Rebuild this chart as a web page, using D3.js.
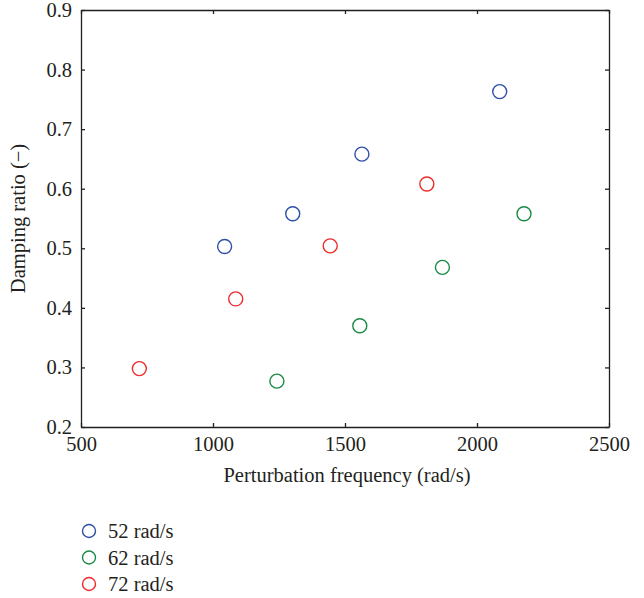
<!DOCTYPE html>
<html>
<head>
<meta charset="utf-8">
<script src="https://cdn.jsdelivr.net/npm/d3@7"></script>
<style>
  body { margin: 0; background: #fff; }
  text { font-family: "Liberation Serif", "DejaVu Serif", serif; fill: #231f20; }
</style>
</head>
<body>
<div id="chart"></div>
<script>
// data
const seriesNames = ["52 rad/s", "62 rad/s", "72 rad/s"];
const seriesColors = ["#2f4fa8", "#1b8a45", "#ee2b2b"];
const freq52 = [1044, 1302, 1564, 2086];
const damp52 = [0.503, 0.558, 0.658, 0.763];
const freq62 = [1242, 1556, 1869, 2178];
const damp62 = [0.277, 0.370, 0.468, 0.558];
const freq72 = [721, 1086, 1444, 1810];
const damp72 = [0.298, 0.415, 0.504, 0.608];
const xTicks = [500, 1000, 1500, 2000, 2500];
const yTicks = [0.2, 0.3, 0.4, 0.5, 0.6, 0.7, 0.8, 0.9];

const W = 644, H = 598;
const margin = { top: 10, right: 35, bottom: 171, left: 81 };
const width = W - margin.left - margin.right,
    height = H - margin.top - margin.bottom;
const fs = "20.5px";

const svg = d3.select("#chart").append("svg")
    .attr("width", W).attr("height", H)
    .append("g")
    .attr("transform", `translate(${margin.left},${margin.top})`);

const x = d3.scaleLinear().domain([500, 2500]).range([0, width]);
const y = d3.scaleLinear().domain([0.2, 0.9]).range([height, 0]);

// axes, ticks pointing inward, mirrored on top/right
const axB = svg.append("g").attr("transform", `translate(0,${height})`)
    .call(d3.axisBottom(x).tickValues(xTicks).tickFormat(d3.format("d")).tickSize(-4).tickSizeOuter(0).tickPadding(7));
const axL = svg.append("g")
    .call(d3.axisLeft(y).tickValues(yTicks).tickFormat(d3.format(".1f")).tickSize(-4).tickSizeOuter(0).tickPadding(9));
const axT = svg.append("g")
    .call(d3.axisTop(x).tickValues(xTicks).tickSize(-4).tickSizeOuter(0).tickFormat(""));
const axR = svg.append("g").attr("transform", `translate(${width},0)`)
    .call(d3.axisRight(y).tickValues(yTicks).tickSize(-4).tickSizeOuter(0).tickFormat(""));

[axB, axL, axT, axR].forEach(a => {
    a.select(".domain").attr("stroke", "#231f20").attr("stroke-width", 1.3);
    a.selectAll(".tick line").attr("stroke", "#231f20").attr("stroke-width", 1.3);
    a.selectAll("text").style("font-size", fs).attr("fill", "#231f20");
});
axB.selectAll("text").attr("dy", "0.85em");
axL.selectAll("text").attr("dy", "0.32em");

// axis titles
svg.append("text")
    .attr("x", width / 2 + 2).attr("y", height + 55)
    .attr("text-anchor", "middle")
    .style("font-size", fs)
    .text("Perturbation frequency (rad/s)");

svg.append("text")
    .attr("transform", `translate(${-56},${height / 2}) rotate(-90)`)
    .attr("text-anchor", "middle")
    .style("font-size", fs)
    .text("Damping ratio (\u2212)");

// points
const series = [
    { name: seriesNames[0], color: seriesColors[0], xs: freq52, ys: damp52 },
    { name: seriesNames[1], color: seriesColors[1], xs: freq62, ys: damp62 },
    { name: seriesNames[2], color: seriesColors[2], xs: freq72, ys: damp72 }
];

series.forEach(s => {
    svg.append("g").selectAll("circle")
        .data(s.xs.map((v, i) => [v, s.ys[i]]))
        .enter().append("circle")
        .attr("cx", d => x(d[0]))
        .attr("cy", d => y(d[1]))
        .attr("r", 7)
        .attr("fill", "none")
        .attr("stroke", s.color)
        .attr("stroke-width", 1.4);
});

// legend below the plot
const legend = svg.append("g").attr("transform", `translate(${89 - margin.left},${531 - margin.top})`);
legend.selectAll("circle")
    .data(series).enter().append("circle")
    .attr("cx", 0)
    .attr("cy", (d, i) => i * 26.5)
    .attr("r", 6.5)
    .attr("fill", "none")
    .attr("stroke", d => d.color)
    .attr("stroke-width", 1.4);
legend.selectAll("text")
    .data(series).enter().append("text")
    .attr("x", 19)
    .attr("y", (d, i) => i * 26.5)
    .attr("dy", "0.35em")
    .style("font-size", fs)
    .text(d => d.name);
</script>
</body>
</html>
